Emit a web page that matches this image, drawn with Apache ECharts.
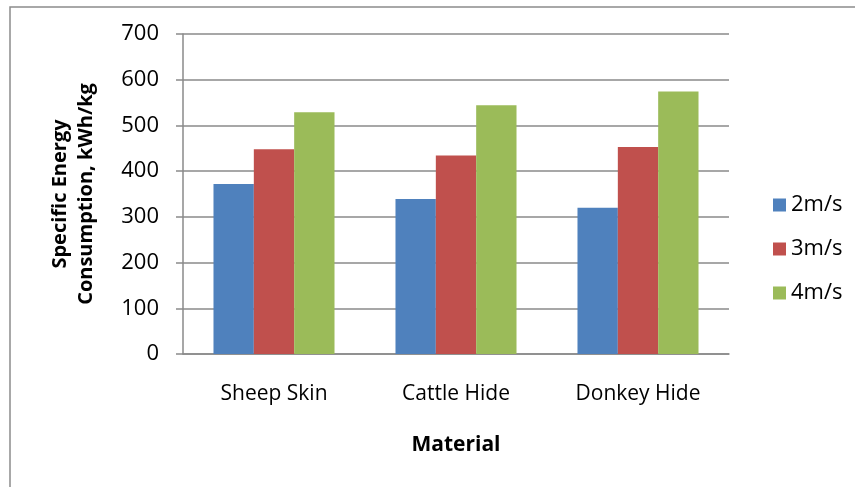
<!DOCTYPE html>
<html>
<head>
<meta charset="utf-8">
<script src="https://cdn.jsdelivr.net/npm/echarts@6/dist/echarts.min.js"></script>
<style>
  html, body { margin: 0; padding: 0; background: #fff; }
  #chart { width: 855px; height: 487px; }
</style>
</head>
<body>
<div id="chart"></div>
<script>
// Specific energy consumption (kWh/kg) per material at three air speeds
const materials = ['Sheep Skin', 'Cattle Hide', 'Donkey Hide'];
const speedNames = ['2m/s', '3m/s', '4m/s'];
const speed2 = [372, 339, 320];
const speed3 = [448, 434, 453];
const speed4 = [529, 544, 574];
const yTicks = { min: 0, max: 700, step: 100 };

const colors = ['#4f81bd', '#c0504d', '#9bbb59'];
const FONT = 'Open Sans';
const gridLine = '#8a8a8a';

const chart = echarts.init(document.getElementById('chart'));

const seriesValues = [speed2, speed3, speed4];

chart.setOption({
  animation: false,
  textStyle: { fontFamily: FONT },
  color: colors,
  graphic: [{
    type: 'rect',
    shape: { x: 10, y: 7, width: 900, height: 520 },
    style: { fill: 'none', stroke: '#8c8c8c', lineWidth: 1.5 },
    silent: true
  }],
  grid: { left: 183, right: 126, top: 34, bottom: 133 },
  legend: {
    orient: 'vertical',
    left: 768,
    top: 189,
    itemWidth: 13,
    itemHeight: 13,
    itemGap: 22,
    icon: 'rect',
    textStyle: { fontFamily: FONT, fontSize: 22, color: '#000' },
    data: speedNames
  },
  xAxis: {
    type: 'category',
    data: materials,
    name: 'Material',
    nameLocation: 'middle',
    nameGap: 81,
    nameTextStyle: { fontFamily: FONT, fontSize: 21, fontWeight: 'bold', color: '#000' },
    axisLine: { lineStyle: { color: gridLine, width: 1.5 } },
    axisTick: { show: false },
    axisLabel: { fontFamily: FONT, fontSize: 21, color: '#000', margin: 30 }
  },
  yAxis: {
    type: 'value',
    min: yTicks.min,
    max: yTicks.max,
    interval: yTicks.step,
    name: 'Specific Energy\nConsumption, kWh/kg',
    nameLocation: 'middle',
    nameRotate: 90,
    nameGap: 84,
    nameTextStyle: { fontFamily: FONT, fontSize: 20, fontWeight: 'bold', color: '#000', lineHeight: 26 },
    axisLine: { show: true, lineStyle: { color: gridLine, width: 1.5 } },
    axisTick: { show: true, length: 7, lineStyle: { color: gridLine, width: 1.5 } },
    axisLabel: { fontFamily: FONT, fontSize: 22, color: '#000', margin: 24 },
    splitLine: { lineStyle: { color: gridLine, width: 1.5 } }
  },
  series: speedNames.map((name, i) => ({
    name: name,
    type: 'bar',
    data: seriesValues[i],
    barGap: '0%',
    barCategoryGap: '33.5%',
    itemStyle: { color: colors[i] }
  }))
});
</script>
</body>
</html>
